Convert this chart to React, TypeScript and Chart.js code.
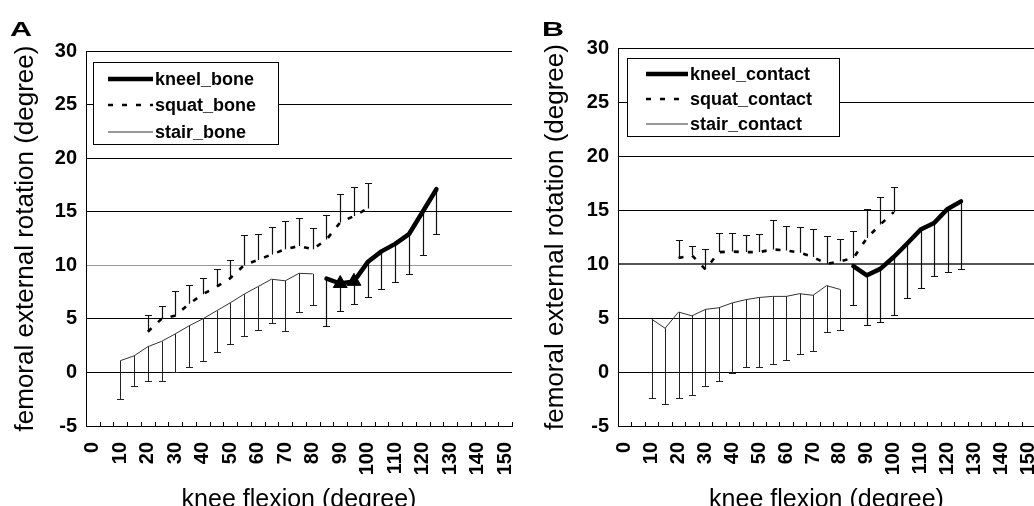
import React, { useEffect, useRef } from 'react';
import { Chart, registerables } from 'chart.js';

Chart.register(...registerables);

// ---------- data ----------
const degreeLabels = ['0', '5', '10', '15', '20', '25', '30', '35', '40', '45', '50', '55', '60', '65', '70', '75', '80', '85', '90', '95', '100', '105', '110', '115', '120', '125', '130', '135', '140', '145', '150'];
const shownTickLabels = ['0', '10', '20', '30', '40', '50', '60', '70', '80', '90', '100', '110', '120', '130', '140', '150'];
const yMin = -5;
const yMax = 30;
const yStep = 5;

const kneelDeg = [85, 90, 95, 100, 105, 110, 115, 120, 125];
const squatDeg = [20, 25, 30, 35, 40, 45, 50, 55, 60, 65, 70, 75, 80, 85, 90, 95, 100];
const stairDeg = [10, 15, 20, 25, 30, 35, 40, 45, 50, 55, 60, 65, 70, 75, 80];

// Panel A (bone)
const kneelBoneMean = [8.75, 8.3, 8.5, 10.3, 11.3, 12.0, 12.9, 15.0, 17.1];
const kneelBoneSD = [4.4, 2.6, 2.1, 3.25, 3.5, 3.6, 3.7, 4.0, 4.2];
const kneelBoneMarkerDeg = [90, 95];
const squatBoneMean = [3.8, 5.0, 5.3, 6.4, 7.3, 8.0, 8.8, 10.0, 10.5, 11.0, 11.5, 11.8, 11.5, 12.4, 14.0, 14.6, 15.3];
const squatBoneSD = [1.6, 1.2, 2.3, 1.75, 1.5, 1.65, 1.7, 2.85, 2.45, 2.6, 2.65, 2.6, 2.0, 2.3, 2.7, 2.7, 2.4];
const stairBoneMean = [1.1, 1.55, 2.4, 2.9, 3.6, 4.35, 5.0, 5.75, 6.5, 7.3, 8.0, 8.7, 8.55, 9.25, 9.2];
const stairBoneSD = [3.6, 2.8, 3.2, 3.7, 3.55, 3.85, 3.9, 3.85, 3.8, 3.9, 4.05, 4.1, 4.65, 3.6, 2.9];

// Panel B (contact)
const kneelContactMean = [9.8, 8.95, 9.55, 10.65, 11.9, 13.2, 13.8, 15.1, 15.8];
const kneelContactSD = [3.6, 4.6, 4.9, 5.35, 5.05, 5.4, 4.95, 5.8, 6.25];
const kneelContactMarkerDeg: number[] = [];
const squatContactMean = [10.55, 10.8, 9.5, 11.1, 11.15, 11.1, 11.1, 11.35, 11.25, 11.05, 10.65, 10.0, 10.25, 10.55, 12.4, 13.65, 14.8];
const squatContactSD = [1.65, 0.85, 1.9, 1.75, 1.7, 1.55, 1.65, 2.7, 2.25, 2.35, 2.6, 2.6, 2.1, 2.5, 2.7, 2.55, 2.3];
const stairContactMean = [4.9, 4.05, 5.55, 5.2, 5.8, 5.95, 6.4, 6.7, 6.9, 7.0, 7.0, 7.25, 7.1, 8.0, 7.65];
const stairContactSD = [7.35, 7.0, 8.0, 7.35, 7.05, 6.75, 6.5, 6.2, 6.4, 6.25, 5.85, 5.6, 5.2, 4.25, 3.75];

// ---------- helpers ----------
const FONT = "'Liberation Sans', Arial, Helvetica, sans-serif";

function toSeries(deg: number[], vals: number[]) {
  const out: (number | null)[] = degreeLabels.map(() => null);
  deg.forEach((d, k) => {
    const i = degreeLabels.indexOf(String(d));
    if (i >= 0) out[i] = vals[k];
  });
  return out;
}

const errorBarPlugin = {
  id: 'errorBarsCustom',
  beforeDatasetsDraw(chart: any) {
    const { ctx } = chart;
    const x = chart.scales.x;
    const y = chart.scales.y;
    chart.data.datasets.forEach((ds: any) => {
      const eb = ds.errorBars;
      if (!eb) return;
      ctx.save();
      ctx.strokeStyle = eb.color;
      ctx.lineWidth = eb.width;
      eb.deg.forEach((d: number, k: number) => {
        const i = degreeLabels.indexOf(String(d));
        const px = Math.round(x.getPixelForValue(i)) + 0.5;
        const y0 = y.getPixelForValue(eb.mean[k]);
        const y1 = Math.round(y.getPixelForValue(eb.mean[k] + eb.dir * eb.sd[k])) + 0.5;
        ctx.beginPath();
        ctx.moveTo(px, y0);
        ctx.lineTo(px, y1);
        ctx.moveTo(px - 3.5, y1);
        ctx.lineTo(px + 3.5, y1);
        ctx.stroke();
      });
      ctx.restore();
    });
  },
};

const innerTickPlugin = {
  id: 'innerTicks',
  afterDatasetsDraw(chart: any) {
    const { ctx } = chart;
    const x = chart.scales.x;
    const bottom = chart.chartArea.bottom;
    ctx.save();
    ctx.strokeStyle = '#000';
    ctx.lineWidth = 1;
    ctx.beginPath();
    for (let i = 0; i <= degreeLabels.length; i++) {
      const px = Math.round(x.getPixelForValue(i - 0.5)) + 0.5;
      ctx.moveTo(px, bottom);
      ctx.lineTo(px, bottom - 4);
    }
    ctx.stroke();
    ctx.restore();
  },
};

function makeLegendPlugin(cfg: any) {
  return {
    id: 'boxLegend',
    afterDraw(chart: any) {
      const { ctx, chartArea } = chart;
      const bx = Math.round(chartArea.left + cfg.dx);
      const by = Math.round(chartArea.top + cfg.dy);
      ctx.save();
      ctx.fillStyle = '#fff';
      ctx.fillRect(bx, by, cfg.w, cfg.h);
      ctx.strokeStyle = '#000';
      ctx.lineWidth = 1;
      ctx.strokeRect(bx + 0.5, by + 0.5, cfg.w, cfg.h);
      chart.data.datasets.forEach((ds: any, k: number) => {
        const ry = by + cfg.rows[k];
        ctx.strokeStyle = ds.borderColor;
        ctx.lineWidth = ds.borderWidth;
        ctx.setLineDash(ds.borderDash || []);
        ctx.beginPath();
        ctx.moveTo(bx + cfg.lineX0, ry);
        ctx.lineTo(bx + cfg.lineX1, ry);
        ctx.stroke();
        ctx.setLineDash([]);
        ctx.fillStyle = '#000';
        ctx.font = `bold 18px ${FONT}`;
        ctx.textBaseline = 'middle';
        ctx.textAlign = 'left';
        ctx.fillText(ds.label, bx + cfg.textX, ry + 1);
      });
      ctx.restore();
    },
  };
}

function buildConfig(p: any) {
  const datasets = [
    {
      label: p.kneelLabel,
      data: toSeries(kneelDeg, p.kneelMean),
      borderColor: '#000',
      backgroundColor: '#000',
      borderWidth: 4.5,
      borderJoinStyle: 'round',
      borderCapStyle: 'round',
      pointStyle: 'triangle',
      pointRadius: (c: any) => (p.markers.includes(Number(degreeLabels[c.dataIndex])) ? 8 : 0),
      pointBackgroundColor: '#000',
      pointBorderColor: '#000',
      pointBorderWidth: 1,
      errorBars: { deg: kneelDeg, mean: p.kneelMean, sd: p.kneelSD, dir: -1, color: '#111', width: 1.2 },
    },
    {
      label: p.squatLabel,
      data: toSeries(squatDeg, p.squatMean),
      borderColor: '#000',
      backgroundColor: '#000',
      borderWidth: 2.6,
      borderDash: [5, 9],
      pointRadius: 0,
      errorBars: { deg: squatDeg, mean: p.squatMean, sd: p.squatSD, dir: 1, color: '#111', width: 1.2 },
    },
    {
      label: p.stairLabel,
      data: toSeries(stairDeg, p.stairMean),
      borderColor: '#333',
      backgroundColor: '#333',
      borderWidth: 1,
      pointRadius: 0,
      errorBars: { deg: stairDeg, mean: p.stairMean, sd: p.stairSD, dir: -1, color: '#222', width: 1 },
    },
  ];
  return {
    type: 'line',
    data: { labels: degreeLabels, datasets },
    plugins: [errorBarPlugin, innerTickPlugin, makeLegendPlugin(p.legend)],
    options: {
      responsive: false,
      animation: false,
      devicePixelRatio: 1,
      layout: { padding: { top: p.padTop, right: p.padRight, left: 0, bottom: 0 } },
      plugins: { legend: { display: false }, tooltip: { enabled: false } },
      elements: { line: { tension: 0 } },
      scales: {
        x: {
          type: 'category',
          offset: true,
          grid: { display: false },
          border: { display: true, color: '#000', width: 1 },
          ticks: {
            autoSkip: false,
            minRotation: 90,
            maxRotation: 90,
            padding: 8,
            color: '#000',
            font: { family: FONT, size: 20, weight: 'bold' },
            callback: (_v: any, i: number) => (shownTickLabels.includes(degreeLabels[i]) ? degreeLabels[i] : ''),
          },
          title: {
            display: true,
            text: 'knee flexion (degree)',
            color: '#000',
            font: { family: FONT, size: 25 },
            padding: { top: 0, bottom: 5 },
          },
          afterFit: (s: any) => {
            s.height = p.xHeight;
            s.paddingLeft = 0;
            s.paddingRight = 0;
          },
        },
        y: {
          min: yMin,
          max: yMax,
          ticks: {
            stepSize: yStep,
            padding: 9,
            color: '#000',
            font: { family: FONT, size: 20, weight: 'bold' },
          },
          grid: {
            drawTicks: false,
            color: (c: any) => (c.tick && c.tick.value === p.accent.value ? p.accent.color : '#000'),
            lineWidth: (c: any) => (c.tick && c.tick.value === p.accent.value ? p.accent.width : 1),
          },
          border: { display: true, color: '#000', width: 1 },
          title: {
            display: true,
            text: 'femoral external rotation (degree)',
            color: '#000',
            font: { family: FONT, size: 26 },
            padding: { top: 10, bottom: 0 },
          },
          afterFit: (s: any) => {
            s.width = p.yWidth;
            s.paddingTop = 0;
            s.paddingBottom = 0;
          },
        },
      },
    },
  };
}

const panelA = {
  kneelLabel: 'kneel_bone',
  squatLabel: 'squat_bone',
  stairLabel: 'stair_bone',
  kneelMean: kneelBoneMean,
  kneelSD: kneelBoneSD,
  squatMean: squatBoneMean,
  squatSD: squatBoneSD,
  stairMean: stairBoneMean,
  stairSD: stairBoneSD,
  markers: kneelBoneMarkerDeg,
  padTop: 51,
  padRight: 5,
  yWidth: 86,
  xHeight: 94,
  accent: { value: 10, color: '#9a9a9a', width: 1 },
  legend: { dx: 7, dy: 11, w: 185, h: 82, rows: [17, 43, 70], lineX0: 15, lineX1: 60, textX: 62 },
};

const panelB = {
  kneelLabel: 'kneel_contact',
  squatLabel: 'squat_contact',
  stairLabel: 'stair_contact',
  kneelMean: kneelContactMean,
  kneelSD: kneelContactSD,
  squatMean: squatContactMean,
  squatSD: squatContactSD,
  stairMean: stairContactMean,
  stairSD: stairContactSD,
  markers: kneelContactMarkerDeg,
  padTop: 48,
  padRight: 15,
  yWidth: 88,
  xHeight: 94,
  accent: { value: 10, color: '#555', width: 2 },
  legend: { dx: 9, dy: 10, w: 212, h: 78, rows: [16, 41, 66], lineX0: 19, lineX1: 61, textX: 63 },
};

export default function App() {
  const refA = useRef<HTMLCanvasElement | null>(null);
  const refB = useRef<HTMLCanvasElement | null>(null);

  useEffect(() => {
    const a = new Chart(refA.current as HTMLCanvasElement, buildConfig(panelA) as any);
    const b = new Chart(refB.current as HTMLCanvasElement, buildConfig(panelB) as any);
    return () => {
      a.destroy();
      b.destroy();
    };
  }, []);

  const letterStyle: React.CSSProperties = {
    position: 'absolute',
    top: 17,
    fontFamily: FONT,
    fontWeight: 'bold',
    fontSize: 21,
    lineHeight: '24px',
    transform: 'scaleX(1.45)',
    transformOrigin: 'left top',
    color: '#000',
  };

  return (
    <div
      style={{
        position: 'absolute',
        left: 0,
        top: 0,
        width: 1034,
        height: 506,
        overflow: 'hidden',
        background: '#fff',
      }}
    >
      <canvas
        ref={refA}
        width={517}
        height={520}
        style={{ position: 'absolute', left: 0, top: 0, width: 517, height: 520 }}
      />
      <canvas
        ref={refB}
        width={520}
        height={520}
        style={{ position: 'absolute', left: 530, top: 0, width: 520, height: 520 }}
      />
      <div style={{ ...letterStyle, left: 10 }}>A</div>
      <div style={{ ...letterStyle, left: 542 }}>B</div>
    </div>
  );
}
